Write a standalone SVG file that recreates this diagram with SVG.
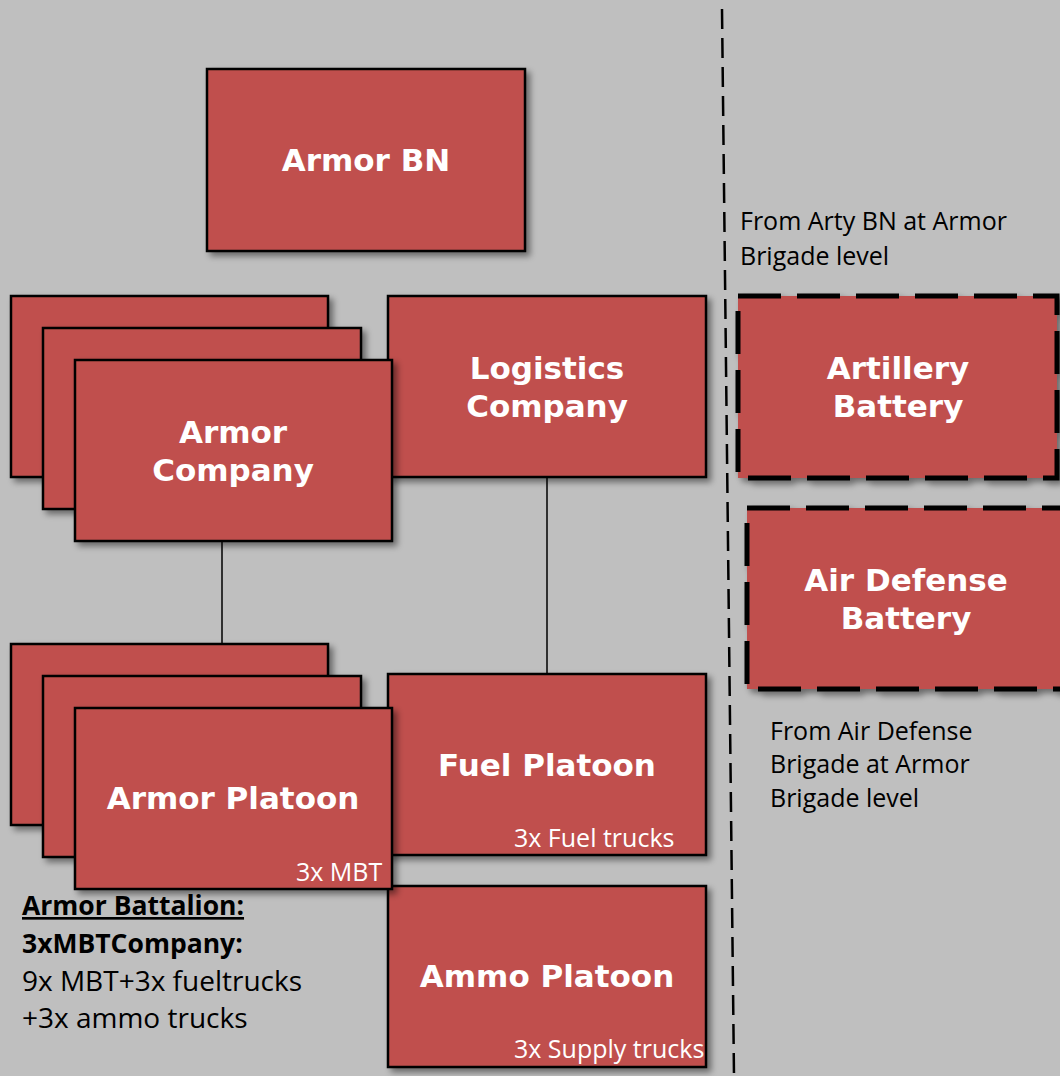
<svg xmlns="http://www.w3.org/2000/svg" width="1060" height="1076" viewBox="0 0 1060 1076">
<style>
.box{fill:#C0504D;stroke:#000;stroke-width:2.5;filter:url(#sh)}
.dbox{fill:#C0504D;stroke:#000;stroke-width:5;stroke-dasharray:43 16;filter:url(#sh)}
.t{font-family:"DejaVu Sans",sans-serif;font-weight:bold;font-size:31px;fill:#fff;text-anchor:middle}
.s{font-family:"Open Sans",sans-serif;font-size:25px;fill:#fff}
.n{font-family:"Open Sans",sans-serif;font-size:25px;fill:#000}
.b{font-family:"Open Sans",sans-serif;font-size:28px;fill:#000}
.bb{font-family:"Open Sans",sans-serif;font-size:26.5px;font-weight:bold;fill:#000}
.con{stroke:#000;stroke-width:1.5;fill:none}
</style>
<defs>
<filter id="sh" x="-10%" y="-10%" width="125%" height="125%">
<feDropShadow dx="4" dy="4" stdDeviation="3" flood-color="#000" flood-opacity="0.45"/>
</filter>
</defs>
<rect width="1060" height="1076" fill="#BFBFBF"/>
<g id="connectors">
<line class="con" x1="222" y1="541" x2="222" y2="644"/>
<line class="con" x1="547" y1="477" x2="547" y2="674"/>
<line x1="722" y1="9" x2="734" y2="1076" stroke="#000" stroke-width="2.5" stroke-dasharray="20 9"/>
</g>
<g id="armor-bn">
<rect class="box" x="207" y="69" width="318" height="182"/>
<text class="t" x="366" y="171">Armor BN</text>
</g>
<g id="logistics-company">
<rect class="box" x="388" y="296" width="318" height="181"/>
<text class="t" x="547" y="379">Logistics</text>
<text class="t" x="547" y="417">Company</text>
</g>
<g id="armor-company">
<rect class="box" x="11" y="296" width="317" height="181"/>
<rect class="box" x="43" y="328" width="318" height="181"/>
<rect class="box" x="75" y="360" width="317" height="181"/>
<text class="t" x="233" y="443">Armor</text>
<text class="t" x="233" y="481">Company</text>
</g>
<g id="fuel-platoon">
<rect class="box" x="388" y="674" width="318" height="181"/>
<text class="t" x="547" y="776">Fuel Platoon</text>
<text class="s" x="514" y="847">3x Fuel trucks</text>
</g>
<g id="ammo-platoon">
<rect class="box" x="388" y="886" width="318" height="181"/>
<text class="t" x="547" y="987">Ammo Platoon</text>
<text class="s" x="514" y="1058">3x Supply trucks</text>
</g>
<g id="armor-platoon">
<rect class="box" x="11" y="644" width="317" height="181"/>
<rect class="box" x="43" y="676" width="318" height="181"/>
<rect class="box" x="75" y="708" width="317" height="181"/>
<text class="t" x="233" y="809">Armor Platoon</text>
<text class="s" x="296" y="881">3x MBT</text>
</g>
<g id="artillery-battery">
<rect class="dbox" x="738" y="296" width="319" height="182"/>
<text class="t" x="898" y="379">Artillery</text>
<text class="t" x="898" y="417">Battery</text>
</g>
<g id="air-defense-battery">
<rect class="dbox" x="747" y="508" width="320" height="181"/>
<text class="t" x="906" y="591">Air Defense</text>
<text class="t" x="906" y="629">Battery</text>
</g>
<g id="notes">
<text class="n" x="740" y="230">From Arty BN at Armor</text>
<text class="n" x="740" y="265">Brigade level</text>
<text class="n" x="770" y="740">From Air Defense</text>
<text class="n" x="770" y="773">Brigade at Armor</text>
<text class="n" x="770" y="807">Brigade level</text>
<text class="bb" x="22" y="915" text-decoration="underline">Armor Battalion:</text>
<text class="bb" x="22" y="953">3xMBTCompany:</text>
<text class="b" x="22" y="991">9x MBT+3x fueltrucks</text>
<text class="b" x="22" y="1028">+3x ammo trucks</text>
</g>
</svg>
